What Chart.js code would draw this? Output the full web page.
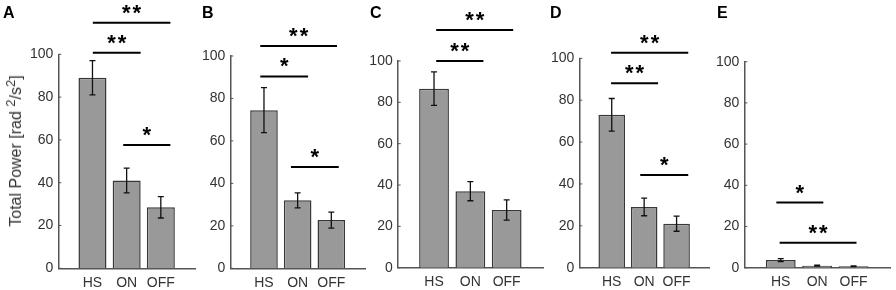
<!DOCTYPE html>
<html>
<head>
<meta charset="utf-8">
<script src="https://cdn.jsdelivr.net/npm/chart.js@4.4.1/dist/chart.umd.min.js"></script>
<style>
  body { margin: 0; background: #fff; }
  #wrap { position: relative; width: 896px; height: 290px; overflow: hidden; font-family: 'Liberation Sans', Arial, sans-serif; }
  #wrap canvas { position: absolute; top: 0; }
  .tag { position: absolute; top: 5px; font-weight: bold; font-size: 16px; line-height: 16px; color: #000; }
  #ytitle { position: absolute; left: 16px; top: 151px; transform: translate(-50%, -50%) rotate(-90deg);
            white-space: nowrap; font-size: 16px; line-height: 16px; color: #333; }
  #ytitle sup { font-size: 13px; vertical-align: 6px; line-height: 0; }
</style>
</head>
<body>
<div id="wrap">
  <canvas id="chartA"></canvas>
  <canvas id="chartB"></canvas>
  <canvas id="chartC"></canvas>
  <canvas id="chartD"></canvas>
  <canvas id="chartE"></canvas>
  <div class="tag" style="left:3px">A</div>
  <div class="tag" style="left:202px">B</div>
  <div class="tag" style="left:370px">C</div>
  <div class="tag" style="left:550px">D</div>
  <div class="tag" style="left:717px">E</div>
  <div id="ytitle">Total Power [rad <sup>2</sup>/s<sup>2</sup>]</div>
</div>
<script>
// categories (empty slots pad the axis on both sides)
const groups = ['', 'HS', 'ON', 'OFF', ''];
const yTicks = [0, 20, 40, 60, 80, 100];

// mean total power and error per panel (HS, ON, OFF)
const powerA = [89, 41, 28.5];   const errA = [8, 5.8, 5];
const powerB = [74.5, 32, 22.7]; const errB = [10.6, 3.5, 3.8];
const powerC = [86.6, 37, 27.9]; const errC = [8.1, 4.6, 4.9];
const powerD = [73, 29, 21];     const errD = [7.8, 4.2, 3.6];
const powerE = [3.7, 1.0, 0.7];  const errE = [0.7, 0.2, 0.2];

// significance brackets: [from, to, level, stars]
const sigA = [[1.01, 2.41, 100.7, '**'], [1.01, 3.28, 114.8, '**'], [1.9, 3.28, 57.6, '*']];
const sigB = [[0.89, 3.17, 104.7, '**'], [0.89, 2.31, 90.4, '*'], [1.8, 3.22, 47.7, '*']];
const sigC = [[1.06, 3.18, 115, '**'], [1.06, 2.36, 100, '**']];
const sigD = [[0.98, 3.36, 102.7, '**'], [0.98, 2.43, 88.1, '**'], [1.88, 3.36, 44.3, '*']];
const sigE = [[0.88, 2.17, 31.6, '*'], [0.97, 3.08, 12.1, '**']];

const extras = {
  id: 'extras',
  afterDatasetsDraw(chart, args, opts) {
    const { ctx, scales: { x, y } } = chart;
    ctx.save();
    // error bars
    ctx.strokeStyle = '#111';
    ctx.lineWidth = 1.3;
    opts.errors.forEach((e, i) => {
      const v = opts.values[i];
      const px = x.getPixelForValue(i + 1);
      const t = y.getPixelForValue(v + e), b = y.getPixelForValue(v - e);
      ctx.beginPath();
      ctx.moveTo(px, t); ctx.lineTo(px, b);
      ctx.moveTo(px - 3, t); ctx.lineTo(px + 3, t);
      ctx.moveTo(px - 3, b); ctx.lineTo(px + 3, b);
      ctx.stroke();
    });
    // small inward ticks on the y axis
    ctx.strokeStyle = '#555';
    ctx.lineWidth = 1;
    y.ticks.forEach(tk => {
      const py = y.getPixelForValue(tk.value);
      ctx.beginPath(); ctx.moveTo(x.left, py); ctx.lineTo(x.left + 3, py); ctx.stroke();
    });
    // brackets with stars
    ctx.strokeStyle = '#000';
    ctx.fillStyle = '#000';
    ctx.lineWidth = 2;
    ctx.font = 'bold 22px "Liberation Sans", Arial, sans-serif';
    ctx.textAlign = 'center';
    ctx.textBaseline = 'alphabetic';
    ctx.letterSpacing = '2px';
    opts.sig.forEach(([a, b, lvl, txt]) => {
      const x1 = x.getPixelForValue(a), x2 = x.getPixelForValue(b), py = y.getPixelForValue(lvl);
      ctx.beginPath(); ctx.moveTo(x1, py); ctx.lineTo(x2, py); ctx.stroke();
      ctx.fillText(txt, (x1 + x2) / 2 + 1, py - 3);
    });
    ctx.restore();
  }
};

function drawPanel(id, g, values, errors, sig) {
  const cv = document.getElementById(id);
  cv.width = Math.ceil(g.right - g.left + 4);
  cv.height = 290;
  cv.style.left = g.left + 'px';
  new Chart(cv, {
    type: 'bar',
    data: {
      labels: groups,
      datasets: [{
        data: [null, ...values, null],
        backgroundColor: '#999999',
        borderColor: '#383838',
        borderWidth: 1.5,
        barPercentage: 0.82,
        categoryPercentage: 1
      }]
    },
    options: {
      responsive: false,
      animation: false,
      layout: { padding: { top: g.top, bottom: 290 - g.bottom - 20, left: 0, right: 4 } },
      plugins: { legend: { display: false }, tooltip: { enabled: false }, extras: { values, errors, sig } },
      scales: {
        x: {
          offset: false,
          grid: { display: false, drawTicks: false },
          border: { color: '#555', width: 1.5 },
          ticks: { autoSkip: false, maxRotation: 0, padding: 6, color: '#333', font: { size: 14, family: '"Liberation Sans", Arial, sans-serif' } },
          afterFit(s) { s.height = 20; }
        },
        y: {
          min: 0, max: 100,
          afterBuildTicks(s) { s.ticks = yTicks.map(v => ({ value: v })); },
          grid: { display: false, drawTicks: false },
          border: { color: '#555', width: 1.5 },
          ticks: { padding: 5, color: '#333', font: { size: 14, family: '"Liberation Sans", Arial, sans-serif' } },
          afterFit(s) { s.width = g.axis - g.left; }
        }
      }
    },
    plugins: [extras]
  });
}

drawPanel('chartA', { left: 0,   axis: 58.3,  right: 196.7, top: 54.3, bottom: 268.3 }, powerA, errA, sigA);
drawPanel('chartB', { left: 195, axis: 230.3, right: 366.7, top: 56,   bottom: 268.3 }, powerB, errB, sigB);
drawPanel('chartC', { left: 362, axis: 397.7, right: 544.3, top: 61,   bottom: 267.7 }, powerC, errC, sigC);
drawPanel('chartD', { left: 544, axis: 579.3, right: 711,   top: 58.3, bottom: 267.7 }, powerD, errD, sigD);
drawPanel('chartE', { left: 709, axis: 744.3, right: 891.7, top: 61.7, bottom: 267.7 }, powerE, errE, sigE);
</script>
</body>
</html>
